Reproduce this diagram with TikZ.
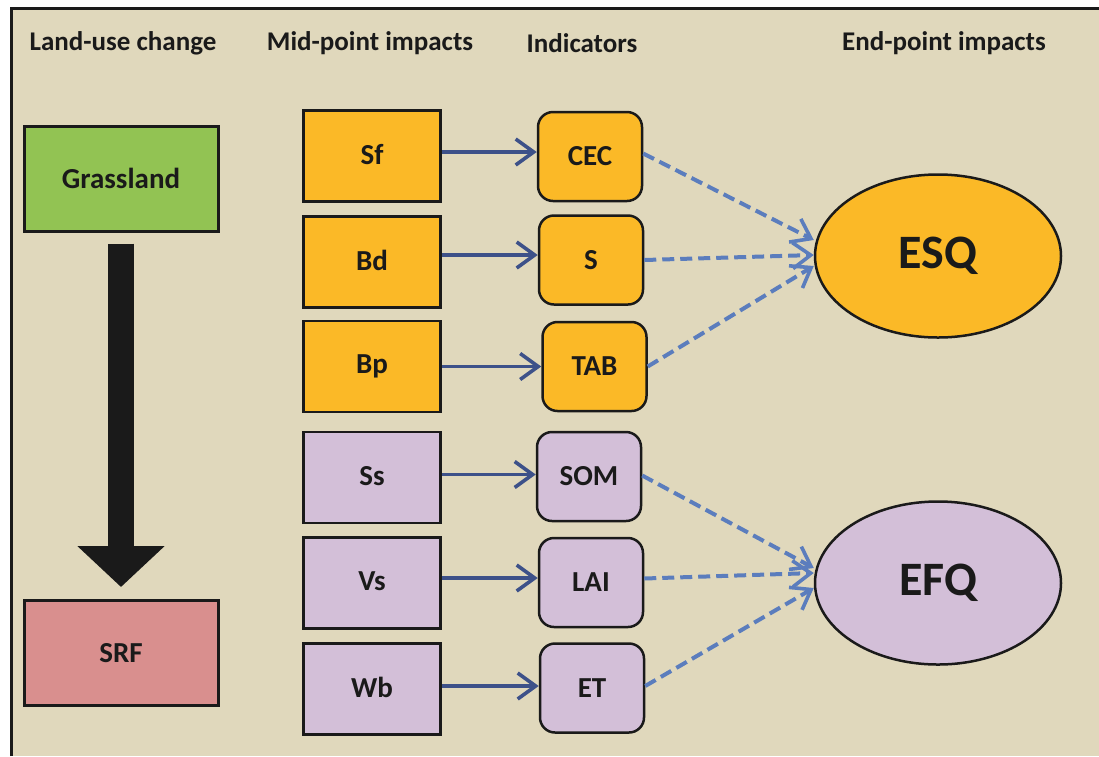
\documentclass[tikz,border=0pt]{standalone}
\usepackage{fontspec}
\setmainfont{Carlito}
\usetikzlibrary{arrows.meta,shapes.geometric}
\definecolor{bgc}{HTML}{E0D8BC}
\definecolor{grassc}{HTML}{92C353}
\definecolor{srfc}{HTML}{D98F8E}
\definecolor{orangec}{HTML}{FBB927}
\definecolor{lilac}{HTML}{D3BFD8}
\definecolor{darkblue}{HTML}{3D5189}
\definecolor{lightblue}{HTML}{5B7DBD}
\definecolor{ink}{HTML}{1A1A1A}
\tikzset{
  heading/.style={font=\fontsize{27}{30}\selectfont\bfseries, text=ink},
  boxtext/.style={font=\fontsize{29}{33}\selectfont\bfseries, text=ink},
  luc/.style={boxtext, draw=ink, line width=3pt, minimum width=194pt, minimum height=105pt, inner sep=0pt},
  midbox/.style={boxtext, draw=ink, line width=2.5pt, minimum width=137pt, minimum height=91pt, inner sep=0pt},
  indbox/.style={boxtext, draw=ink, line width=2.5pt, rounded corners=15pt, minimum width=104pt, minimum height=89pt, inner sep=0pt},
  endell/.style={ellipse, draw=ink, line width=2.5pt, minimum width=246pt, minimum height=163pt, inner sep=0pt, font=\fontsize{48}{52}\selectfont\bfseries, text=ink},
  solidarr/.style={draw=darkblue, line width=3.8pt, -{Straight Barb[length=18pt,width=26pt,line width=3.6pt]}},
  dasharr/.style={draw=lightblue, line width=4pt, dash pattern=on 12pt off 6pt, -{Straight Barb[length=18pt,width=26pt,line width=3.6pt]}},
  bigarr/.style={draw=ink, line width=26pt, -{Triangle[length=41pt,width=85pt]}}
}
\begin{document}
\begin{tikzpicture}[x=1pt,y=-1pt]
\useasboundingbox (0,0) rectangle (1099,756);
\fill[white] (0,0) rectangle (1099,756);
\fill[bgc] (11,8) rectangle (1099,756);
\draw[ink, line width=3pt] (11,756) -- (11,8) -- (1099,8);

% headings
\node[heading] (h1) at (123,43) {Land-use change};
\node[heading] (h2) at (370,43) {Mid-point impacts};
\node[heading] (h3) at (582,43) {Indicators};
\node[heading] (h4) at (944,43) {End-point impacts};

% land-use change
\node[luc, fill=grassc] (grass) at (121,178.5) {Grassland};
\node[luc, fill=srfc] (srf) at (121,653) {SRF};
\draw[bigarr] ([yshift=-11pt]grass.south) -- ([yshift=12pt]srf.north);

% mid-point impacts
\node[midbox, fill=orangec] (sf) at (372,156) {\raisebox{3pt}{Sf}};
\node[midbox, fill=orangec] (bd) at (372,262) {\raisebox{3pt}{Bd}};
\node[midbox, fill=orangec] (bp) at (372,366.5) {Bp};
\node[midbox, fill=lilac] (ss) at (372,477.5) {\raisebox{3pt}{Ss}};
\node[midbox, fill=lilac] (vs) at (372,583) {\raisebox{3pt}{Vs}};
\node[midbox, fill=lilac] (wb) at (372,689) {\raisebox{3pt}{Wb}};

% indicators
\node[indbox, fill=orangec] (cec) at (590,156.5) {CEC};
\node[indbox, fill=orangec] (s) at (591,260) {S};
\node[indbox, fill=orangec] (tab) at (594.5,366.5) {TAB};
\node[indbox, fill=lilac] (som) at (589,476.5) {SOM};
\node[indbox, fill=lilac] (lai) at (591,582.5) {LAI};
\node[indbox, fill=lilac] (et) at (592,688) {ET};

% end-point impacts
\node[endell, fill=orangec] (esq) at (938,256) {ESQ};
\node[endell, fill=lilac] (efq) at (938,583) {EFQ};

% solid arrows
\draw[solidarr] ([yshift=4pt]sf.east) -- ([yshift=4pt]sf.east -| cec.west);
\draw[solidarr] ([yshift=7pt]bd.east) -- ([yshift=7pt]bd.east -| s.west);
\draw[solidarr] (bp.east) -- (bp.east -| tab.west);
\draw[solidarr] ([yshift=3pt]ss.east) -- ([yshift=3pt]ss.east -| som.west);
\draw[solidarr] ([yshift=5pt]vs.east) -- ([yshift=5pt]vs.east -| lai.west);
\draw[solidarr] ([yshift=3pt]wb.east) -- ([yshift=3pt]wb.east -| et.west);

% dashed arrows
\draw[dasharr] ([yshift=3pt]cec.east) -- ([yshift=16pt]esq.west);
\draw[dasharr] (s.east) -- ([yshift=1pt]esq.west);
\draw[dasharr] (tab.east) -- ([yshift=-10pt]esq.west);
\draw[dasharr] ([yshift=1pt]som.east) -- ([yshift=15pt]efq.west);
\draw[dasharr] ([yshift=4pt]lai.east) -- ([yshift=10pt]efq.west);
\draw[dasharr] ([yshift=2pt]et.east) -- ([yshift=-5pt]efq.west);
\end{tikzpicture}
\end{document}
